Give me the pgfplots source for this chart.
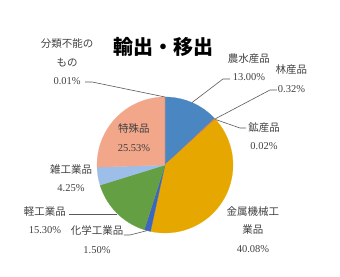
\documentclass[border=0pt]{standalone}
\usepackage{pgfplots}
\usepackage{pgfplotstable}
\pgfplotsset{compat=1.18}
\usepackage{fontspec}
\setmainfont{Liberation Serif}
\newfontfamily\cjk{Noto Sans CJK JP}
\definecolor{slice0}{HTML}{4A86C1}
\definecolor{slice1}{HTML}{ED7D31}
\definecolor{slice2}{HTML}{A5A5A5}
\definecolor{slice3}{HTML}{E5A700}
\definecolor{slice4}{HTML}{3D66C0}
\definecolor{slice5}{HTML}{64A043}
\definecolor{slice6}{HTML}{9DBEE8}
\definecolor{slice7}{HTML}{F2A68A}
\definecolor{slice8}{HTML}{7F7F7F}
\definecolor{lbl}{HTML}{404040}
\definecolor{ldr}{HTML}{595959}
\pgfplotstableread[col sep=comma]{
name,value
農水産品,13.00
林産品,0.32
鉱産品,0.02
金属機械工業品,40.08
化学工業品,1.50
軽工業品,15.30
雑工業品,4.25
特殊品,25.53
分類不能のもの,0.01
}\piedata
\begin{document}
\begin{tikzpicture}
\begin{axis}[
  hide axis, scale only axis, clip=false,
  width=340pt, height=277pt,
  xmin=-2.4265, xmax=2.5735, ymin=-1.6471, ymax=2.4265,
]
\pgfplotstablegetrowsof{\piedata}
\pgfmathtruncatemacro\N{\pgfplotsretval-1}
\gdef\cum{0}
\pgfplotsforeachungrouped \i in {0,...,\N}{%
  \pgfplotstablegetelem{\i}{value}\of\piedata
  \let\v\pgfplotsretval
  \pgfmathsetmacro\a{90-3.6*\cum}%
  \pgfmathsetmacro\b{90-3.6*(\cum+\v)}%
  \gdef\pts{(0,0)}%
  \foreach \j in {0,...,40}{%
    \pgfmathsetmacro\t{\a+(\b-\a)*\j/40}%
    \pgfmathsetmacro\px{cos(\t)}%
    \pgfmathsetmacro\py{sin(\t)}%
    \xdef\pts{\pts (\px,\py)}%
  }%
  \edef\doplot{\noexpand\addplot[fill=slice\i, draw=slice\i, line width=0.2pt] coordinates {\pts (0,0)};}%
  \doplot
  \pgfmathsetmacro\newcum{\cum+\v}%
  \global\let\cum\newcum
}
% leader lines
\addplot[ldr, line width=0.6pt] coordinates {(-1.176,1.221) (-1.074,1.221) (0,1.0)};
\addplot[ldr, line width=0.6pt] coordinates {(0.956,1.265) (0.853,1.265) (0.397,0.918)};
\addplot[ldr, line width=0.6pt] coordinates {(1.647,1.103) (1.544,1.103) (0.736,0.677)};
\addplot[ldr, line width=0.6pt] coordinates {(0.743,0.669) (1.103,0.544) (1.191,0.544)};
\addplot[ldr, line width=0.6pt] coordinates {(-0.603,-1.029) (-0.515,-1.029) (-0.265,-0.966)};
\addplot[ldr, line width=0.6pt] coordinates {(-1.412,-0.721) (-0.71,-0.721)};
% title
\node[font={\cjk\bfseries\fontsize{20}{24}\selectfont}] at (axis cs:-0.022,1.735) {輸出・移出};
% labels
\tikzset{lab/.style={text=lbl, align=center, font={\fontsize{10.5}{18.5}\selectfont}}}
\node[lab] at (axis cs:-1.44,1.515) {{\cjk 分類不能の}\\{\cjk もの}\\0.01\%};
\node[lab] at (axis cs:1.235,1.441) {{\cjk 農水産品}\\13.00\%};
\node[lab] at (axis cs:1.86,1.272) {{\cjk 林産品}\\0.32\%};
\node[lab] at (axis cs:1.456,0.426) {{\cjk 鉱産品}\\0.02\%};
\node[lab] at (axis cs:1.294,-0.949) {{\cjk 金属機械工}\\{\cjk 業品}\\40.08\%};
\node[lab] at (axis cs:-1.0,-1.096) {{\cjk 化学工業品}\\1.50\%};
\node[lab] at (axis cs:-1.765,-0.809) {{\cjk 軽工業品}\\15.30\%};
\node[lab] at (axis cs:-1.382,-0.191) {{\cjk 雑工業品}\\4.25\%};
\node[lab] at (axis cs:-0.456,0.404) {{\cjk 特殊品}\\25.53\%};
\end{axis}
\pgfresetboundingbox
\path (current axis.south west) rectangle (current axis.north east);
\end{tikzpicture}
\end{document}
